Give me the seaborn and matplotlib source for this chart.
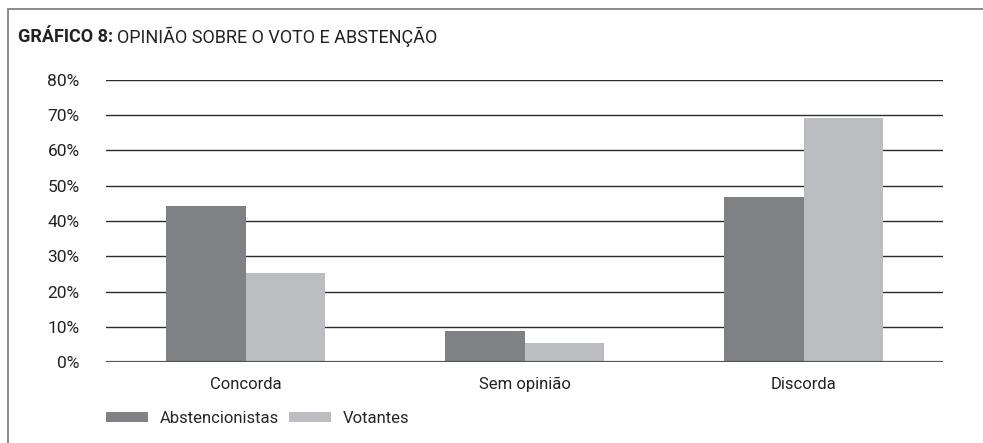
import matplotlib
matplotlib.use("Agg")
import matplotlib.pyplot as plt
import matplotlib.patches as mpatches
import pandas as pd
import seaborn as sns

# opinião sobre o voto, em % de cada grupo
categorias = ["Concorda", "Sem opinião", "Discorda"]
grupos = ["Abstencionistas", "Votantes"]
abstencionistas = [44.3, 8.8, 46.8]
votantes = [25.2, 5.4, 69.2]
yticks = [0, 10, 20, 30, 40, 50, 60, 70, 80]

df = pd.DataFrame({
    "categoria": categorias * 2,
    "grupo": [grupos[0]] * 3 + [grupos[1]] * 3,
    "valor": abstencionistas + votantes,
})

sns.set_style("white")
plt.rcParams["font.family"] = ["Roboto", "DejaVu Sans"]

fig = plt.figure(figsize=(9.83, 4.43), dpi=100)
ax = fig.add_axes([106 / 983, 81 / 443, 837 / 983, 282 / 443])

cores = {"Abstencionistas": "#808184", "Votantes": "#bcbdc0"}
sns.barplot(data=df, x="categoria", y="valor", hue="grupo", palette=cores,
            width=0.57, saturation=1, linewidth=0, ax=ax, zorder=3, legend=True)

for t in yticks[1:]:
    ax.axhline(t, color="#2b2b2b", lw=1.0, zorder=1)
ax.axhline(0, color="#555555", lw=1.6, zorder=4)

ax.set_xlim(-0.5, 2.5)
ax.set_ylim(0, 80)
ax.set_yticks(yticks)
ax.set_yticklabels([f"{t}%" for t in yticks], fontsize=12.5, color="#222222")
ax.tick_params(axis="y", length=0, pad=19)
ax.tick_params(axis="x", length=0, pad=11, labelsize=12, labelcolor="#222222")
ax.set_xlabel("")
ax.set_ylabel("")
sns.despine(ax=ax, left=True, bottom=True)

ax.legend(loc="upper left", bbox_to_anchor=(0.0, -0.175), ncol=2, frameon=False,
          fontsize=12, handlelength=2.5, handleheight=0.55, handletextpad=0.72,
          columnspacing=0.6, borderaxespad=0, borderpad=0)

# moldura
fig.patches.append(mpatches.Rectangle((8 / 983, -0.1), 1.2, (443 - 9) / 443 + 0.1,
                                      transform=fig.transFigure, fill=False,
                                      edgecolor="#8a8a8a", lw=1.4))

# título
t1 = fig.text(18 / 983, 1 - 37 / 443, "GRÁFICO 8:", fontsize=13, fontweight="bold",
              va="center", ha="left", color="#222222")
r = fig.canvas.get_renderer()
bb = t1.get_window_extent(renderer=r)
fig.text((bb.x1 + 4) / 983, 1 - 37 / 443, "OPINIÃO SOBRE O VOTO E ABSTENÇÃO",
         fontsize=13, va="center", ha="left", color="#222222")

fig.savefig("out.png", dpi=100)
